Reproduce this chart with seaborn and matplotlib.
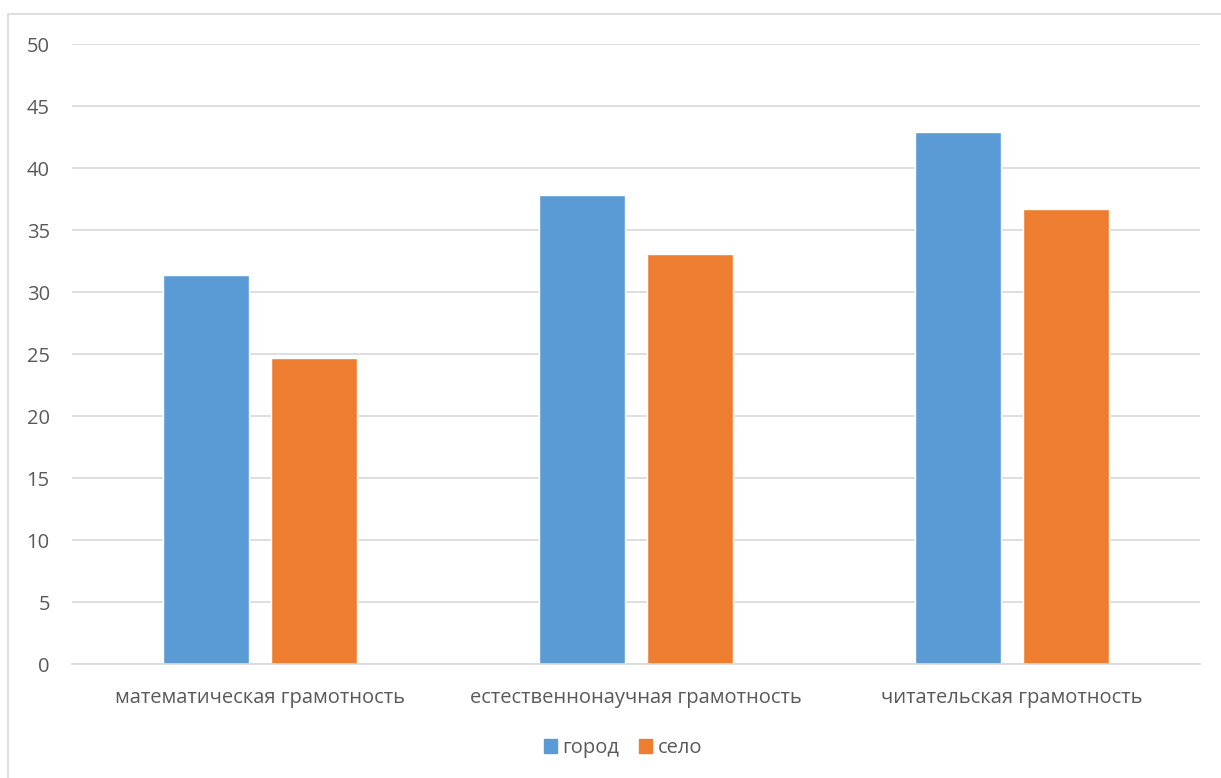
import pandas as pd
import matplotlib.pyplot as plt
import seaborn as sns
from matplotlib.patches import Rectangle

# данные
categories = ['математическая грамотность', 'естественнонаучная грамотность', 'читательская грамотность']
gorod = [31.4, 37.8, 42.9]
selo = [24.7, 33.1, 36.7]
series = ['город', 'село']

df = pd.DataFrame({
    'cat': categories * 2,
    'val': gorod + selo,
    'grp': [series[0]] * 3 + [series[1]] * 3,
})

sns.set_theme(style='white')
plt.rcParams['font.family'] = ['Open Sans', 'DejaVu Sans']

fig = plt.figure(figsize=(12.21, 7.78), dpi=100)
ax = fig.add_axes([72 / 1221, 1 - 664 / 778, 1128 / 1221, 620 / 778])

sns.barplot(data=df, x='cat', y='val', hue='grp', order=categories, hue_order=series,
            palette=['#5B9BD5', '#ED7D31'], width=0.575, gap=0.21, saturation=1,
            ax=ax, legend=False)

ax.set_ylim(0, 50)
ax.set_xlim(-0.5, 2.5)
ax.set_yticks(range(0, 51, 5))
ax.yaxis.grid(True, color='#d9d9d9', linewidth=1.2)
ax.set_axisbelow(True)
for s in ['top', 'right', 'left']:
    ax.spines[s].set_visible(False)
ax.spines['bottom'].set_color('#d9d9d9')
ax.spines['bottom'].set_linewidth(1.2)
ax.set_xlabel('')
ax.set_ylabel('')
ax.tick_params(axis='y', length=0, pad=16, labelsize=14.5, labelcolor='#595959')
ax.tick_params(axis='x', length=0, pad=17, labelsize=14.5, labelcolor='#595959')

# легенда
handles = [Rectangle((0, 0), 1, 1, color=c) for c in ['#5B9BD5', '#ED7D31']]
fig.legend(handles, series, loc='center', bbox_to_anchor=(623 / 1221, 1 - 748 / 778),
           ncol=2, frameon=False, fontsize=14.5, handlelength=0.65, handleheight=0.65,
           handletextpad=0.25, columnspacing=1.0, labelcolor='#595959')

# рамка диаграммы
fig.patches.append(Rectangle((8 / 1221, -0.01), 1.02, 1 - 14 / 778 + 0.01,
                             transform=fig.transFigure, fill=False,
                             edgecolor='#d9d9d9', linewidth=1.2))

fig.savefig('out.png', dpi=100)
